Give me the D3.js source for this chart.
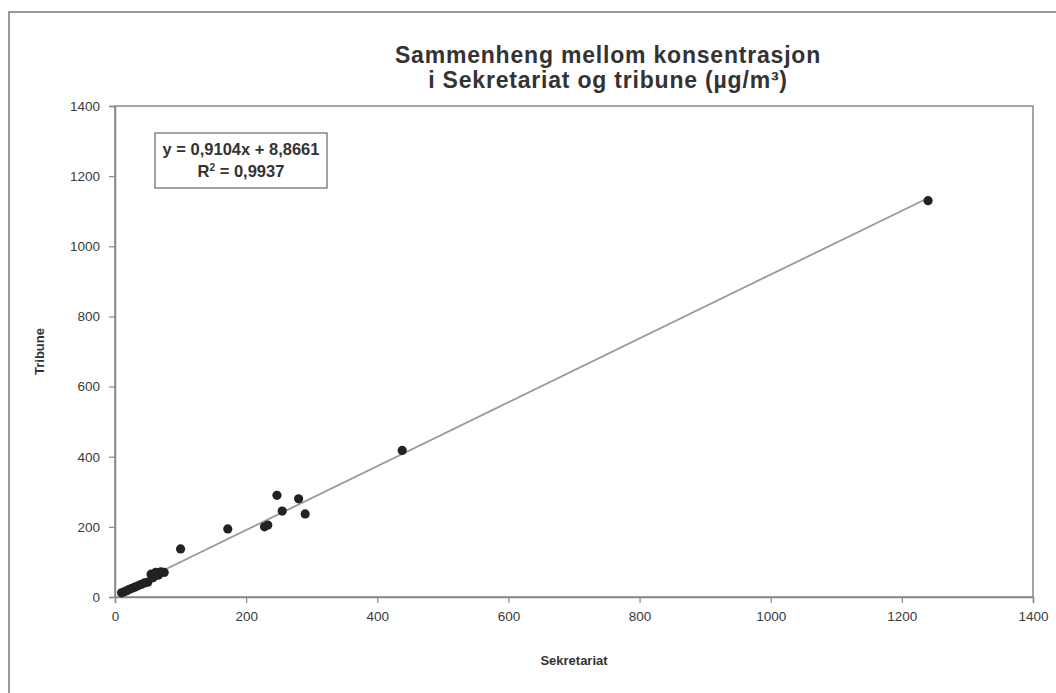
<!DOCTYPE html>
<html>
<head>
<meta charset="utf-8">
<script src="https://cdn.jsdelivr.net/npm/d3@7"></script>
<style>
  body { margin: 0; background: #fff; }
  svg { display: block; font-family: "Liberation Sans", Arial, sans-serif; }
</style>
</head>
<body>
<svg id="chart" width="1056" height="693"></svg>
<script>
// values
const sekretariat = [10, 14, 18, 22, 26, 30, 35, 40, 45, 50, 55, 58, 62, 66, 70, 75, 100, 172, 228, 233, 247, 255, 280, 290, 438, 1240];
const tribune     = [12, 15, 18, 22, 25, 28, 32, 36, 40, 42, 65, 55, 70, 62, 72, 70, 137, 194, 200, 205, 290, 245, 280, 237, 418, 1130];
const xTicks = [0, 200, 400, 600, 800, 1000, 1200, 1400];
const yTicks = [0, 200, 400, 600, 800, 1000, 1200, 1400];
const slope = 0.9104;
const intercept = 8.8661;
const titleLines = ["Sammenheng mellom konsentrasjon", "i Sekretariat og tribune (µg/m³)"];

const svg = d3.select("#chart");
const plot = { left: 115, right: 1033, top: 106, bottom: 597 };

const x = d3.scaleLinear().domain([0, 1400]).range([plot.left, plot.right]);
const y = d3.scaleLinear().domain([0, 1400]).range([plot.bottom, plot.top]);

// outer chart frame (runs off the page on right and bottom)
svg.append("rect")
    .attr("x", 9).attr("y", 12)
    .attr("width", 1080).attr("height", 720)
    .attr("fill", "none")
    .attr("stroke", "#777")
    .attr("stroke-width", 1.5);

// plot area border
svg.append("rect")
    .attr("x", plot.left).attr("y", plot.top)
    .attr("width", plot.right - plot.left)
    .attr("height", plot.bottom - plot.top)
    .attr("fill", "none")
    .attr("stroke", "#888")
    .attr("stroke-width", 1.5);

// axes
const xAxis = svg.append("g")
    .attr("transform", `translate(0,${plot.bottom})`)
    .call(d3.axisBottom(x).tickValues(xTicks).tickSize(6).tickPadding(8).tickFormat(d3.format("d")));
const yAxis = svg.append("g")
    .attr("transform", `translate(${plot.left},0)`)
    .call(d3.axisLeft(y).tickValues(yTicks).tickSize(6).tickPadding(9).tickFormat(d3.format("d")));

[xAxis, yAxis].forEach(g => {
    g.select(".domain").attr("stroke", "#888").attr("stroke-width", 1.5);
    g.selectAll(".tick line").attr("stroke", "#888").attr("stroke-width", 1.2);
    g.selectAll(".tick text")
        .style("font-size", "13.5px")
        .style("font-family", "Liberation Sans, Arial, sans-serif")
        .attr("fill", "#3a3a3a");
});

// trend line
const xMin = d3.min(sekretariat), xMax = d3.max(sekretariat);
svg.append("line")
    .attr("x1", x(xMin)).attr("y1", y(slope * xMin + intercept))
    .attr("x2", x(xMax)).attr("y2", y(slope * xMax + intercept))
    .attr("stroke", "#999")
    .attr("stroke-width", 1.8);

// points
svg.append("g")
    .selectAll("circle")
    .data(sekretariat.map((s, i) => [s, tribune[i]]))
    .join("circle")
    .attr("cx", d => x(d[0]))
    .attr("cy", d => y(d[1]))
    .attr("r", 4.6)
    .attr("fill", "#222");

// title
svg.append("text")
    .attr("x", 608).attr("y", 63)
    .attr("text-anchor", "middle")
    .style("font-size", "23px")
    .style("font-weight", "bold")
    .style("letter-spacing", "0.8px")
    .attr("fill", "#333")
    .selectAll("tspan")
    .data(titleLines)
    .join("tspan")
    .attr("x", 608)
    .attr("dy", (d, i) => i === 0 ? 0 : 25)
    .text(d => d);

// equation box
svg.append("rect")
    .attr("x", 155).attr("y", 133)
    .attr("width", 172).attr("height", 55)
    .attr("fill", "#fff")
    .attr("stroke", "#666")
    .attr("stroke-width", 1.2);

const eq = svg.append("text")
    .attr("text-anchor", "middle")
    .style("font-size", "16.5px")
    .style("font-weight", "bold")
    .attr("fill", "#333");
eq.append("tspan").attr("x", 241).attr("y", 155)
    .text(`y = ${d3.format(".4f")(slope).replace(".", ",")}x + ${d3.format(".4f")(intercept).replace(".", ",")}`);
const r2 = eq.append("tspan").attr("x", 241).attr("y", 177);
r2.append("tspan").text("R");
r2.append("tspan").attr("dy", -6).style("font-size", "10px").text("2");
r2.append("tspan").attr("dy", 6).text(" = 0,9937");

// axis titles
svg.append("text")
    .attr("x", (plot.left + plot.right) / 2).attr("y", 665)
    .attr("text-anchor", "middle")
    .style("font-size", "13px")
    .style("font-weight", "bold")
    .attr("fill", "#333")
    .text("Sekretariat");

svg.append("text")
    .attr("transform", `translate(44,${(plot.top + plot.bottom) / 2}) rotate(-90)`)
    .attr("text-anchor", "middle")
    .style("font-size", "13px")
    .style("font-weight", "bold")
    .attr("fill", "#333")
    .text("Tribune");
</script>
</body>
</html>
